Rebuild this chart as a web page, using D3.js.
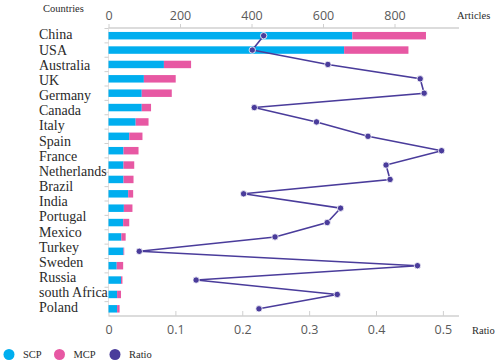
<!DOCTYPE html>
<html>
<head>
<meta charset="utf-8">
<script src="https://cdn.jsdelivr.net/npm/d3@7"></script>
<style>
  body { margin: 0; background: #fff; }
  svg { display: block; }
  .lbl { font-family: "Liberation Serif", "Times New Roman", serif; fill: #2a2a2a; }
  .tick text { font-family: "Open Sans", "Noto Sans", sans-serif; fill: #5a5a5a; }
</style>
</head>
<body>
<svg width="498" height="363"></svg>
<script>
let svg = d3.select("svg");

// country labels as printed on the left (19 of them)
const countries = ["China", "USA", "Australia", "UK", "Germany", "Canada", "Italy", "Spain",
    "France", "Netherlands", "Brazil", "India", "Portugal", "Mexico", "Turkey", "Sweden",
    "Russia", "south Africa", "Poland"];

// bar rows (20 rows drawn in the picture)
const rows = d3.range(20);
const scp = [682, 659, 155, 99, 93, 93, 76, 58, 42, 42, 42, 55, 43, 41, 36, 42, 23, 35, 24, 24];
const mcp = [206, 180, 76, 89, 84, 26, 36, 37, 42, 30, 28, 14, 24, 17, 12, 2, 18, 4, 11, 7];
const ratio = [0.232, 0.215, 0.328, 0.466, 0.472, 0.218, 0.311, 0.388, 0.498, 0.415,
    0.421, 0.202, 0.347, 0.327, 0.249, 0.046, 0.462, 0.131, 0.342, 0.225];

const articleTicks = [0, 200, 400, 600, 800];
const ratioTicks = [0, 0.1, 0.2, 0.3, 0.4, 0.5];

const colors = {scp: "#00aeef", mcp: "#e758a3", ratio: "#4a3c9b"};

let mLeft = 108.5, mRight = 459, mTop = 28, mBottom = 316;

let x = d3.scaleLinear().domain([0, 800]).range([mLeft, mLeft + 286]);
let xr = d3.scaleLinear().domain([0, 0.5]).range([mLeft, mLeft + 334.4]);
let y = d3.scaleBand().domain(rows).range([mTop + 0.5, mBottom]).paddingInner(0.48).paddingOuter(0.24);
let yl = d3.scalePoint().domain(countries).range([34.5, 307.5]);

// top axis
let gTop = svg.append("g").attr("transform", "translate(0," + mTop + ")")
    .call(d3.axisTop(x).tickValues(articleTicks).tickSize(4).tickSizeOuter(0).tickPadding(4));
gTop.select(".domain").attr("d", "M" + mLeft + ",0H" + mRight);

// bottom axis
let gBot = svg.append("g").attr("transform", "translate(0," + mBottom + ")")
    .call(d3.axisBottom(xr).tickValues(ratioTicks).tickFormat(d3.format("")).tickSize(-5).tickSizeOuter(0).tickPadding(9));
gBot.select(".domain").attr("d", "M" + mLeft + ",0H" + mRight);

[gTop, gBot].forEach(function (g) {
    g.selectAll(".domain").attr("stroke", "#d0d0d0").attr("stroke-width", 1.5);
    g.selectAll(".tick line").attr("stroke", "#d0d0d0");
    g.selectAll(".tick text").attr("font-size", 12.5);
});

// left axis line and row ticks
svg.append("line").attr("x1", mLeft).attr("x2", mLeft).attr("y1", mTop).attr("y2", mBottom)
    .attr("stroke", "#e2e2e2");
svg.append("g").selectAll("line").data(rows)
    .enter().append("line")
    .attr("x1", mLeft - 4).attr("x2", mLeft)
    .attr("y1", function (d) { return y(d) - y.step() * 0.24; })
    .attr("y2", function (d) { return y(d) - y.step() * 0.24; })
    .attr("stroke", "#cfcfcf");

// bars
svg.append("g").selectAll("rect").data(rows)
    .enter().append("rect")
    .attr("x", x(0))
    .attr("y", function (d) { return y(d); })
    .attr("width", function (d) { return x(scp[d]) - x(0); })
    .attr("height", y.bandwidth())
    .attr("fill", colors.scp);

svg.append("g").selectAll("rect").data(rows)
    .enter().append("rect")
    .attr("x", function (d) { return x(scp[d]); })
    .attr("y", function (d) { return y(d); })
    .attr("width", function (d) { return x(scp[d] + mcp[d]) - x(scp[d]); })
    .attr("height", y.bandwidth())
    .attr("fill", colors.mcp);

// ratio line
let line = d3.line()
    .x(function (d) { return xr(ratio[d]); })
    .y(function (d) { return y(d) + y.bandwidth() / 2; });

svg.append("path").datum(rows)
    .attr("d", line)
    .attr("fill", "none")
    .attr("stroke", colors.ratio)
    .attr("stroke-width", 1.6);

svg.append("g").selectAll("circle").data(rows)
    .enter().append("circle")
    .attr("cx", function (d) { return xr(ratio[d]); })
    .attr("cy", function (d) { return y(d) + y.bandwidth() / 2; })
    .attr("r", 3.2)
    .attr("fill", colors.ratio)
    .attr("stroke", "#fff")
    .attr("stroke-width", 0.8);

// country labels
svg.append("g").selectAll("text").data(countries)
    .enter().append("text")
    .attr("class", "lbl")
    .attr("x", 39)
    .attr("y", function (d) { return yl(d); })
    .attr("dy", "0.35em")
    .attr("font-size", 14)
    .text(function (d) { return d; });

// axis titles
svg.append("text").attr("class", "lbl").attr("x", 43).attr("y", 12).attr("font-size", 10.5).text("Countries");
svg.append("text").attr("class", "lbl").attr("x", 457).attr("y", 19).attr("font-size", 10.5).text("Articles");
svg.append("text").attr("class", "lbl").attr("x", 472).attr("y", 334).attr("font-size", 10.5).text("Ratio");

// legend
const legendItems = [
    {name: "SCP", color: colors.scp, x: 9},
    {name: "MCP", color: colors.mcp, x: 59.5},
    {name: "Ratio", color: colors.ratio, x: 115}
];
let lg = svg.append("g").selectAll("g").data(legendItems).enter().append("g");
lg.append("circle")
    .attr("cx", function (d) { return d.x; })
    .attr("cy", 354.5)
    .attr("r", 5.5)
    .attr("fill", function (d) { return d.color; });
lg.append("text")
    .attr("class", "lbl")
    .attr("x", function (d) { return d.x + 14; })
    .attr("y", 354.5)
    .attr("dy", "0.35em")
    .attr("font-size", 10.5)
    .text(function (d) { return d.name; });
</script>
</body>
</html>
